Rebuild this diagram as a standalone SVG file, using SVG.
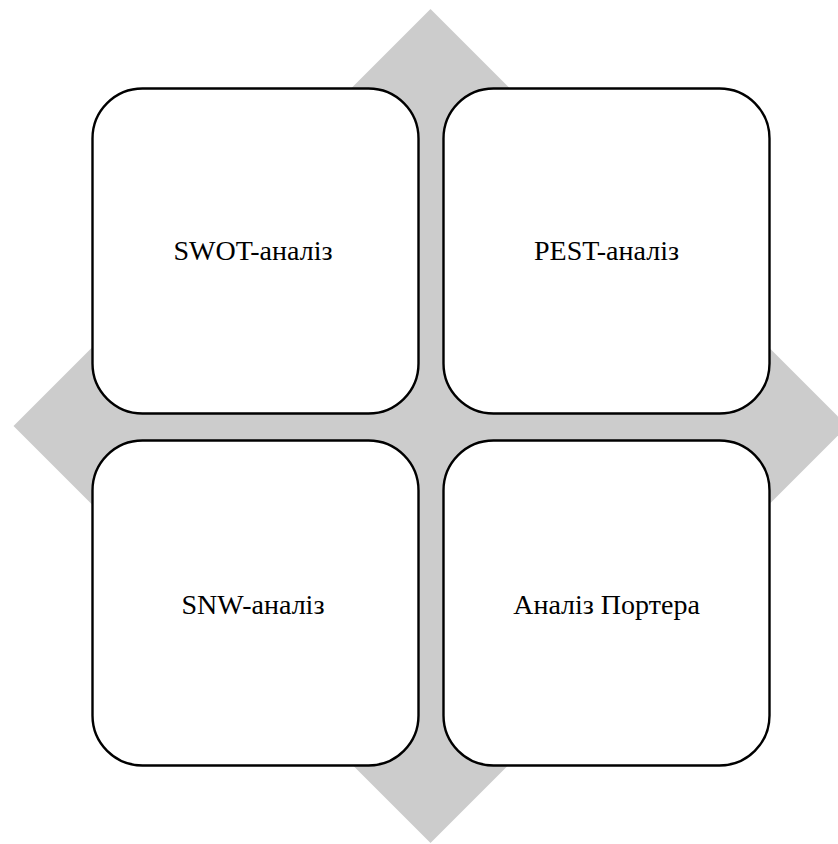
<svg xmlns="http://www.w3.org/2000/svg" width="838" height="844" viewBox="0 0 838 844">
  <style>
    .box { fill: #ffffff; stroke: #000000; stroke-width: 2.4; }
    .label { font-family: "Liberation Serif", "Times New Roman", serif; font-size: 28px; fill: #000000; text-anchor: middle; }
  </style>
  <rect width="838" height="844" fill="#ffffff"/>
  <!-- background diamond -->
  <g id="connectors">
    <polygon points="430.5,9 847.5,426 430.5,843 13.5,426" fill="#cccccc"/>
  </g>
  <g id="swot">
    <rect class="box" x="92.5" y="88.5" width="326" height="325" rx="50" ry="50"/>
    <text class="label" x="253" y="260">SWOT-аналіз</text>
  </g>
  <g id="pest">
    <rect class="box" x="443.5" y="88.5" width="326" height="325" rx="50" ry="50"/>
    <text class="label" x="606.5" y="260">PEST-аналіз</text>
  </g>
  <g id="snw">
    <rect class="box" x="92.5" y="440.5" width="326" height="325" rx="50" ry="50"/>
    <text class="label" x="253" y="614">SNW-аналіз</text>
  </g>
  <g id="porter">
    <rect class="box" x="443.5" y="440.5" width="326" height="325" rx="50" ry="50"/>
    <text class="label" x="606.5" y="614">Аналіз Портера</text>
  </g>
</svg>
